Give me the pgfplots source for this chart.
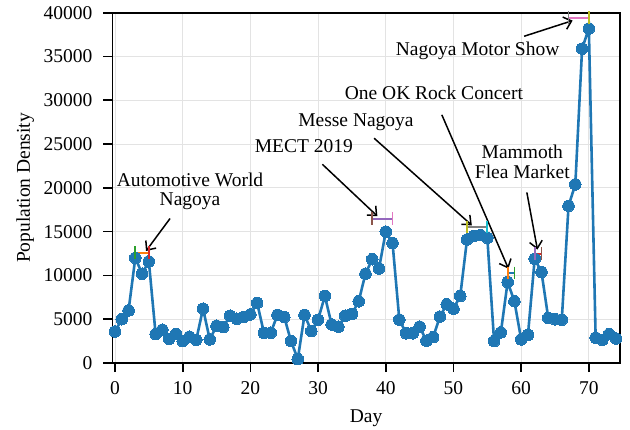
\documentclass[border=0pt]{standalone}
\usepackage{fontspec}
\setmainfont{Liberation Serif}
\usepackage{pgfplots}
\pgfplotsset{compat=1.18}
\usetikzlibrary{arrows.meta}

% tab10 palette
\definecolor{tabblue}{HTML}{1F77B4}
\definecolor{taborange}{HTML}{FF7F0E}
\definecolor{tabgreen}{HTML}{2CA02C}
\definecolor{tabred}{HTML}{D62728}
\definecolor{tabpurple}{HTML}{9467BD}
\definecolor{tabbrown}{HTML}{8C564B}
\definecolor{tabpink}{HTML}{E377C2}
\definecolor{tabgray}{HTML}{7F7F7F}
\definecolor{tabolive}{HTML}{BCBD22}
\definecolor{tabcyan}{HTML}{17BECF}
\definecolor{gridgray}{HTML}{E3E3E3}

\pgfplotstableread{
day density
0 3600
1 5000
2 6000
3 12000
4 10200
5 11600
6 3300
7 3800
8 2750
9 3300
10 2500
11 3000
12 2650
13 6200
14 2700
15 4250
16 4100
17 5400
18 5050
19 5250
20 5550
21 6850
22 3450
23 3450
24 5500
25 5250
26 2500
27 450
28 5500
29 3650
30 4950
31 7650
32 4400
33 4150
34 5400
35 5600
36 7050
37 10200
38 11850
39 10800
40 15000
41 13700
42 4950
43 3400
44 3400
45 4150
46 2550
47 2950
48 5300
49 6700
50 6200
51 7650
52 14100
53 14500
54 14600
55 14300
56 2500
57 3500
58 9250
59 7050
60 2700
61 3200
62 11900
63 10400
64 5150
65 5000
66 4950
67 17950
68 20400
69 35900
70 38200
71 2900
72 2650
73 3300
74 2800
}\densitytable

% event span: line colour, start colour, end colour, first day, last day, height
\newcommand{\eventspan}[6]{%
  \addplot[#1, line width=1bp, forget plot] coordinates {(#4,#6) (#5,#6)};
  \addplot[#2, only marks, mark=|, mark size=3.2bp, mark options={line width=0.9bp}, forget plot] coordinates {(#4,#6)};
  \addplot[#3, only marks, mark=|, mark size=3.2bp, mark options={line width=0.9bp}, forget plot] coordinates {(#5,#6)};
}

\tikzset{note arrow/.style={-{Straight Barb[length=3.6bp,width=6.4bp]}, line width=0.75bp, black}}

\begin{document}
\fontsize{9.75bp}{9.6bp}\selectfont
\begin{tikzpicture}
\begin{axis}[
  name=main,
  scale only axis,
  width=253.85bp, height=175.15bp,
  xmin=-0.4, xmax=74.6, ymin=0, ymax=40000,
  xtick={0,10,...,70},
  ytick={0,5000,...,40000},
  scaled y ticks=false,
  /pgf/number format/assume math mode=true,
  /pgf/number format/set thousands separator={},
  tick align=outside,
  major tick length=4.5bp,
  tick style={black, line width=0.8bp},
  axis line style={line width=0.8bp},
  xtick pos=bottom, ytick pos=left,
  xticklabel style={yshift=-1.5bp},
  yticklabel style={xshift=-2bp},
  grid=major,
  grid style={line width=0.5bp, gridgray},
  xlabel={Day},
  ylabel={Population Density},
  xlabel style={at={(axis description cs:0.5,-0.169)}, anchor=base},
  ylabel style={at={(axis description cs:-0.1623,0.5)}, anchor=base, rotate=0},
  clip=false,
]

\addplot[tabblue, line width=1.3bp, mark=*, mark size=2.9bp,
  mark options={draw=tabblue, fill=tabblue, line width=0pt}]
  table[x=day, y=density] {\densitytable};

\eventspan{taborange}{tabgreen}{tabred}{3}{5}{12600}
\eventspan{tabpurple}{tabbrown}{tabpink}{38}{41}{16500}
\eventspan{tabgray}{tabolive}{tabcyan}{52}{55}{15540}
\eventspan{tabblue}{taborange}{tabgreen}{58}{59}{10270}
\eventspan{tabred}{tabpurple}{tabbrown}{62}{63}{12490}
\eventspan{tabpink}{tabgray}{tabolive}{67}{70}{39420}

% event names
\node[anchor=base] at (axis cs:11.08,20205) {Automotive World};
\node[anchor=base] at (axis cs:11.08,18030) {Nagoya};
\node[anchor=base] at (axis cs:27.9,24020) {MECT 2019};
\node[anchor=base] at (axis cs:35.6,27000) {Messe Nagoya};
\node[anchor=base] at (axis cs:47.11,30060) {One OK Rock Concert};
\node[anchor=base] at (axis cs:60.17,23380) {Mammoth};
\node[anchor=base] at (axis cs:60.17,21090) {Flea Market};
\node[anchor=base] at (axis cs:53.57,35140) {Nagoya Motor Show};

% arrows to the event spans
\draw[note arrow] (axis cs:8.13,16500) -- (axis cs:4.58,12790);
\draw[note arrow] (axis cs:30.63,22690) -- (axis cs:38.76,16770);
\draw[note arrow] (axis cs:38.27,25670) -- (axis cs:52.71,15730);
\draw[note arrow] (axis cs:48.28,28340) -- (axis cs:58.12,10770);
\draw[note arrow] (axis cs:60.84,19480) -- (axis cs:62.4,12950);
\draw[note arrow] (axis cs:60.44,37310) -- (axis cs:67.6,39100);
\end{axis}
\pgfresetboundingbox
\path[use as bounding box] ([xshift=-56.15bp,yshift=-33bp]main.south west)
  rectangle ([xshift=5bp,yshift=6.35bp]main.north east);
\end{tikzpicture}
\end{document}
